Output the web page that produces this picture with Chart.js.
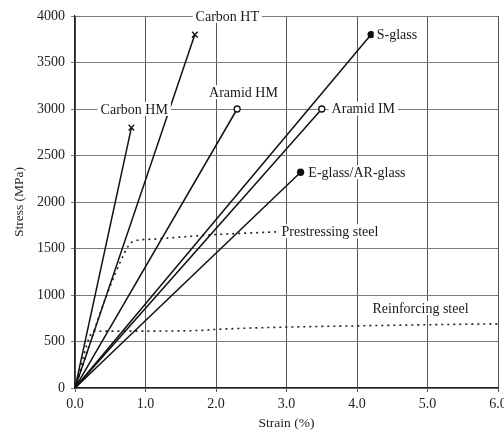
<!DOCTYPE html>
<html>
<head>
<meta charset="utf-8">
<script src="https://cdn.jsdelivr.net/npm/chart.js@4"></script>
<style>
  html, body { margin: 0; padding: 0; background: #fff; overflow: hidden; }
  .wrap { width: 504px; height: 434px; position: relative; }
</style>
</head>
<body>
<div class="wrap"><canvas id="chart"></canvas></div>
<script>
// strain (%) / stress (MPa)
const carbonHM = [[0, 0], [0.8, 2800]];
const carbonHT = [[0, 0], [1.7, 3800]];
const aramidHM = [[0, 0], [2.3, 3000]];
const aramidIM = [[0, 0], [3.5, 3000]];
const sGlass = [[0, 0], [4.2, 3800]];
const eGlass = [[0, 0], [3.2, 2320]];
const prestressingSteel = [[0, 0], [0.45, 1000], [0.7, 1450], [0.75, 1520], [0.8, 1565], [0.9, 1590], [1.1, 1600], [2.0, 1650], [2.9, 1680]];
const reinforcingSteel = [[0, 0], [0.27, 610], [1.0, 612], [1.8, 620], [2.0, 630], [3.0, 655], [4.0, 668], [5.0, 680], [6.0, 690]];

const xTicks = [0, 1, 2, 3, 4, 5, 6];
const yTicks = [0, 500, 1000, 1500, 2000, 2500, 3000, 3500, 4000];

// label text and anchor in data units
const curveLabels = [
    { text: 'Carbon HT', x: 2.16, y: 4000, align: 'center' },
    { text: 'Carbon HM', x: 0.84, y: 3000, align: 'center' },
    { text: 'Aramid HM', x: 2.39, y: 3180, align: 'center' },
    { text: 'S-glass', x: 4.28, y: 3800, align: 'left' },
    { text: 'Aramid IM', x: 3.64, y: 3005, align: 'left' },
    { text: 'E-glass/AR-glass', x: 3.31, y: 2320, align: 'left' },
    { text: 'Prestressing steel', x: 2.93, y: 1685, align: 'left' },
    { text: 'Reinforcing steel', x: 4.22, y: 860, align: 'left' }
];

const FONT = 'Liberation Serif, Times New Roman, serif';
const pts = arr => arr.map(p => ({ x: p[0], y: p[1] }));

// 끝점 마커만 보이도록
const endMarker = (arr, style, fill) => ({
    pointStyle: style,
    pointRadius: arr.map((p, i) => i === arr.length - 1 ? (style === 'crossRot' ? 4 : 3) : 0),
    pointBackgroundColor: fill,
    pointBorderColor: '#111',
    pointBorderWidth: 1.3
});

const solid = (data, style, fill) => Object.assign({
    data: pts(data),
    showLine: true,
    borderColor: '#111',
    borderWidth: 1.5,
    tension: 0
}, endMarker(data, style, fill));

const dotted = (data) => ({
    data: pts(data),
    showLine: true,
    borderColor: '#222',
    borderWidth: 1.6,
    borderDash: [2, 4],
    pointRadius: 0,
    cubicInterpolationMode: 'monotone'
});

const labelPlugin = {
    id: 'curveLabels',
    afterDatasetsDraw(chart) {
        const { ctx, scales: { x, y } } = chart;
        ctx.save();
        ctx.font = '14px ' + FONT;
        ctx.textBaseline = 'middle';
        curveLabels.forEach(l => {
            const px = x.getPixelForValue(l.x);
            const py = y.getPixelForValue(l.y);
            const w = ctx.measureText(l.text).width;
            const left = l.align === 'center' ? px - w / 2 : px;
            ctx.fillStyle = '#fff';
            ctx.fillRect(left - 3, py - 7, w + 6, 14);
            ctx.fillStyle = '#1a1a1a';
            ctx.textAlign = 'left';
            ctx.fillText(l.text, left, py + 1);
        });
        ctx.restore();
    }
};

new Chart(document.getElementById('chart'), {
    type: 'scatter',
    data: {
        datasets: [
            solid(carbonHM, 'crossRot', '#111'),
            solid(carbonHT, 'crossRot', '#111'),
            solid(aramidHM, 'circle', '#fff'),
            solid(aramidIM, 'circle', '#fff'),
            solid(sGlass, 'circle', '#111'),
            solid(eGlass, 'circle', '#111'),
            dotted(prestressingSteel),
            dotted(reinforcingSteel)
        ]
    },
    options: {
        responsive: true,
        maintainAspectRatio: false,
        animation: false,
        layout: { padding: { top: 16, right: 0, left: 0, bottom: 0 } },
        plugins: {
            legend: { display: false },
            tooltip: { enabled: false }
        },
        scales: {
            x: {
                type: 'linear',
                min: 0,
                max: 6,
                afterBuildTicks: s => { s.ticks = xTicks.map(v => ({ value: v })); },
                afterFit: s => { s.height = 46; s.paddingRight = 6; },
                border: { color: '#222', width: 1.2 },
                grid: { color: '#555', lineWidth: 1, tickLength: 4, drawTicks: true },
                ticks: {
                    color: '#222',
                    padding: 4,
                    maxRotation: 0,
                    font: { family: FONT, size: 14 },
                    callback: v => v.toFixed(1)
                },
                title: {
                    display: true,
                    text: 'Strain (%)',
                    color: '#222',
                    font: { family: FONT, size: 13.5 },
                    padding: { top: 0, bottom: 2 }
                }
            },
            y: {
                min: 0,
                max: 4000,
                afterBuildTicks: s => { s.ticks = yTicks.map(v => ({ value: v })); },
                afterFit: s => { s.width = 75; },
                border: { color: '#222', width: 1.2 },
                grid: { color: '#7a7a7a', lineWidth: 1, tickLength: 4 },
                ticks: {
                    color: '#222',
                    padding: 6,
                    font: { family: FONT, size: 14 },
                    callback: v => String(v)
                },
                title: {
                    display: true,
                    text: 'Stress (MPa)',
                    color: '#222',
                    font: { family: FONT, size: 13.5 },
                    padding: { top: 11, bottom: 0 }
                }
            }
        }
    },
    plugins: [labelPlugin]
});
</script>
</body>
</html>
